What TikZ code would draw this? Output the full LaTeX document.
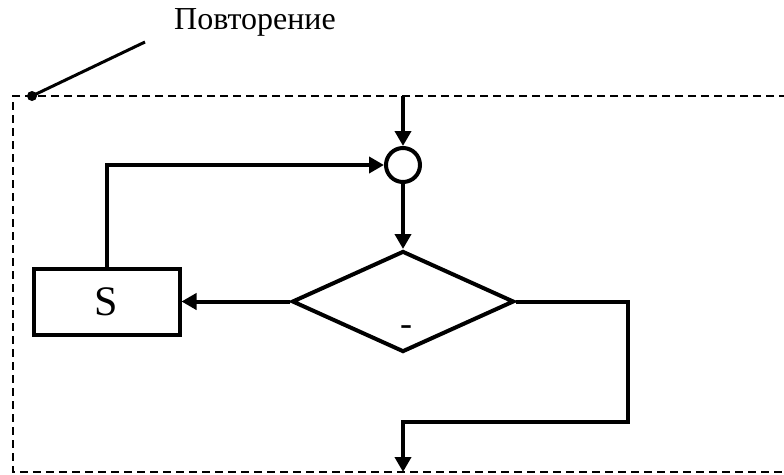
\documentclass[tikz,border=0pt]{standalone}
\usepackage{fontspec}
\setmainfont{Liberation Serif}
\usetikzlibrary{arrows.meta,shapes.geometric}
\begin{document}
\begin{tikzpicture}[x=1pt,y=-1pt,
  flow/.style={line width=4pt},
  arr/.style={flow,-{Triangle[length=15pt,width=16pt]}},
  frame/.style={line width=1.7pt,dash pattern=on 8pt off 5pt},
  blockbox/.style={draw,line width=4pt,minimum width=146pt,minimum height=66pt,inner sep=0pt},
  joint/.style={draw,line width=4pt,circle,minimum size=34pt,inner sep=0pt},
  cond/.style={draw,line width=4pt,diamond,minimum width=222pt,minimum height=101pt,inner sep=0pt,aspect=2.2}]
\useasboundingbox (0,0) rectangle (784,474);

% open frame of the loop
\draw[frame] (800,96) -- (13,96) -- (13,472) -- (800,472);

% caption with leader line
\node (cap) at (255,22) {\fontsize{32pt}{36pt}\selectfont Повторение};
\coordinate (lead) at (145,42);
\coordinate (dot) at (32,96);
\fill (dot) circle (5pt);
\draw[line width=3pt] (dot) -- (lead);

% flowchart
\coordinate (in) at (403,96);
\node[joint] (j) at (403,165) {};
\node[cond] (d) at (403,301.5) {};
\node[inner sep=0pt] at (406,331) {\fontsize{36pt}{40pt}\selectfont -};
\node[blockbox] (s) at (106.5,301.5) {\fontsize{42pt}{46pt}\selectfont S};
\coordinate (rt) at (628,301.5);
\coordinate (rb) at (628,422);
\coordinate (lb) at (403,422);
\coordinate (out) at (403,472);

\draw[arr] (in) -- (j.north);
\draw[arr] (j.south) -- (d.north);
\draw[arr] (d.west) -- (s.east);
\draw[arr] (s.north) |- (j.west);
\draw[arr] (d.east) -- (rt) -- (rb) -- (lb) -- (out);
\end{tikzpicture}
\end{document}
